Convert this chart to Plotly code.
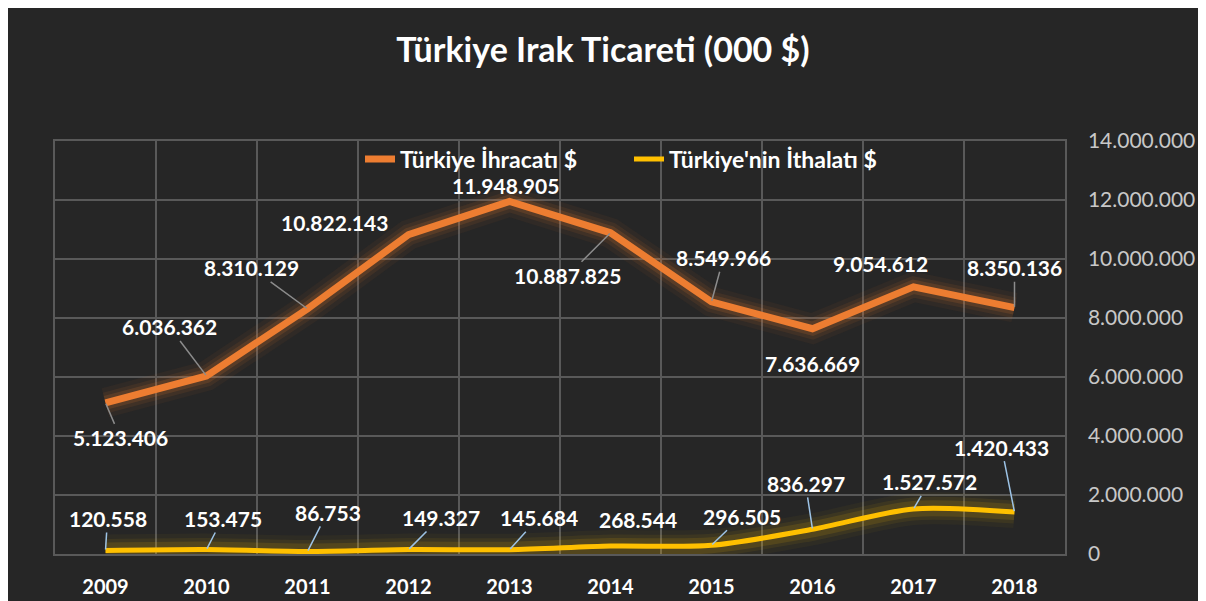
import plotly.graph_objects as go

years = ["2009", "2010", "2011", "2012", "2013", "2014", "2015", "2016", "2017", "2018"]
export_vals = [5123406, 6036362, 8310129, 10822143, 11948905, 10887825, 8549966, 7636669, 9054612, 8350136]
import_vals = [120558, 153475, 86753, 149327, 145684, 268544, 296505, 836297, 1527572, 1420433]
export_name = "Türkiye İhracatı $"
import_name = "Türkiye'nin İthalatı $"
title_text = "Türkiye Irak Ticareti (000 $)"

# label offsets (pixels) and whether a leader line is drawn
export_off = [(15, 35), (-37, -49), (-56, -41), (-74, -12), (-4, -16), (-43, 43), (12, -44), (0, 35), (-33, -23), (0, -40)]
export_leader = [True, True, True, False, False, True, True, True, False, True]
import_off = [(2, -32), (16, -31), (20, -39), (32, -32), (29, -32), (27, -27), (30, -29), (-7, -46), (16, -27), (-13, -65)]
import_leader = [True, True, True, True, True, False, True, True, True, True]

ORANGE = "#ED7D31"
YELLOW = "#FFC000"
BG = "#262626"
GRID = "#595959"
FONT = "Lato"

def fmt(v):
    return f"{v:,}".replace(",", ".")

fig = go.Figure()
# glow layers
for w, a in [(30, 0.05), (21, 0.09), (14, 0.15)]:
    fig.add_trace(go.Scatter(x=years, y=export_vals, mode="lines", showlegend=False, hoverinfo="skip",
                             line=dict(color=f"rgba(237,125,49,{a})", width=w)))
    fig.add_trace(go.Scatter(x=years, y=import_vals, mode="lines", showlegend=False, hoverinfo="skip",
                             line=dict(color=f"rgba(255,192,0,{a * 0.8})", width=w + 2, shape="spline", smoothing=0.8)))

fig.add_trace(go.Scatter(x=years, y=export_vals, mode="lines", name=export_name,
                         line=dict(color=ORANGE, width=7)))
fig.add_trace(go.Scatter(x=years, y=import_vals, mode="lines", name=import_name,
                         line=dict(color=YELLOW, width=5, shape="spline", smoothing=0.8)))

annotations = []
for i, (v, (ax, ay), ld) in enumerate(zip(export_vals, export_off, export_leader)):
    annotations.append(dict(x=i, y=v, xref="x", yref="y", text=fmt(v), showarrow=True,
                            ax=ax, ay=ay, arrowhead=0, arrowwidth=1.5, standoff=1,
                            arrowcolor="#8c8c8c" if ld else "rgba(0,0,0,0)",
                            font=dict(family=FONT, size=21, color="white", weight="bold")))
for i, (v, (ax, ay), ld) in enumerate(zip(import_vals, import_off, import_leader)):
    annotations.append(dict(x=i, y=v, xref="x", yref="y", text=fmt(v), showarrow=True,
                            ax=ax, ay=ay, arrowhead=0, arrowwidth=1.5, standoff=1,
                            arrowcolor="#9dc3e6" if ld else "rgba(0,0,0,0)",
                            font=dict(family=FONT, size=21, color="white", weight="bold")))

# page has an 8px body margin; positions below are in screen pixels
OFF = 8
W, H = 1206 - OFF, 601 - OFF
L, R, T, B = 55, 1065, 141, 554
PW, PH = R - L, B - T
def px(x):
    return (x - L) / PW
def py(y):
    return (B - y) / PH

shapes = [dict(type="rect", xref="paper", yref="paper", x0=px(7), x1=px(1199.5), y0=py(640), y1=py(7),
               fillcolor=BG, line=dict(color="#2E75B6", width=2), layer="below")]

fig.update_layout(
    width=W, height=H,
    margin=dict(l=L - OFF, r=W - (R - OFF), t=T - OFF, b=H - (B - OFF), autoexpand=False),
    paper_bgcolor="white", plot_bgcolor=BG,
    separators=",.",
    title=dict(text=title_text, x=(603 - OFF) / W, xref="container", xanchor="center",
               y=1 - (50 - OFF) / H, yref="container", yanchor="middle",
               font=dict(family=FONT, size=34, color="white", weight="bold")),
    xaxis=dict(type="category", tickson="boundaries", showgrid=True, gridcolor=GRID, gridwidth=1.5,
               showline=True, linecolor=GRID, linewidth=1.5, mirror=True, ticks="", automargin=False,
               ticklabelstandoff=14,
               tickfont=dict(family=FONT, size=20, color="white", weight="bold"), range=[-0.5, 9.5]),
    yaxis=dict(side="right", range=[0, 14000000], dtick=2000000, tickformat=",d", showgrid=True,
               gridcolor=GRID, gridwidth=1.5, zeroline=False, showline=True, linecolor=GRID, linewidth=1.5,
               mirror=True, ticks="", ticklabelstandoff=17, automargin=False,
               tickfont=dict(family=FONT, size=21, color="#c8c8c8")),
    legend=dict(orientation="h", x=px(360), xanchor="left", y=py(159), yanchor="middle",
                bgcolor="rgba(0,0,0,0)", entrywidth=224, entrywidthmode="pixels",
                font=dict(family=FONT, size=23, color="white", weight="bold")),
    annotations=annotations,
    shapes=shapes,
    showlegend=True,
)

fig.write_html("out.html")
